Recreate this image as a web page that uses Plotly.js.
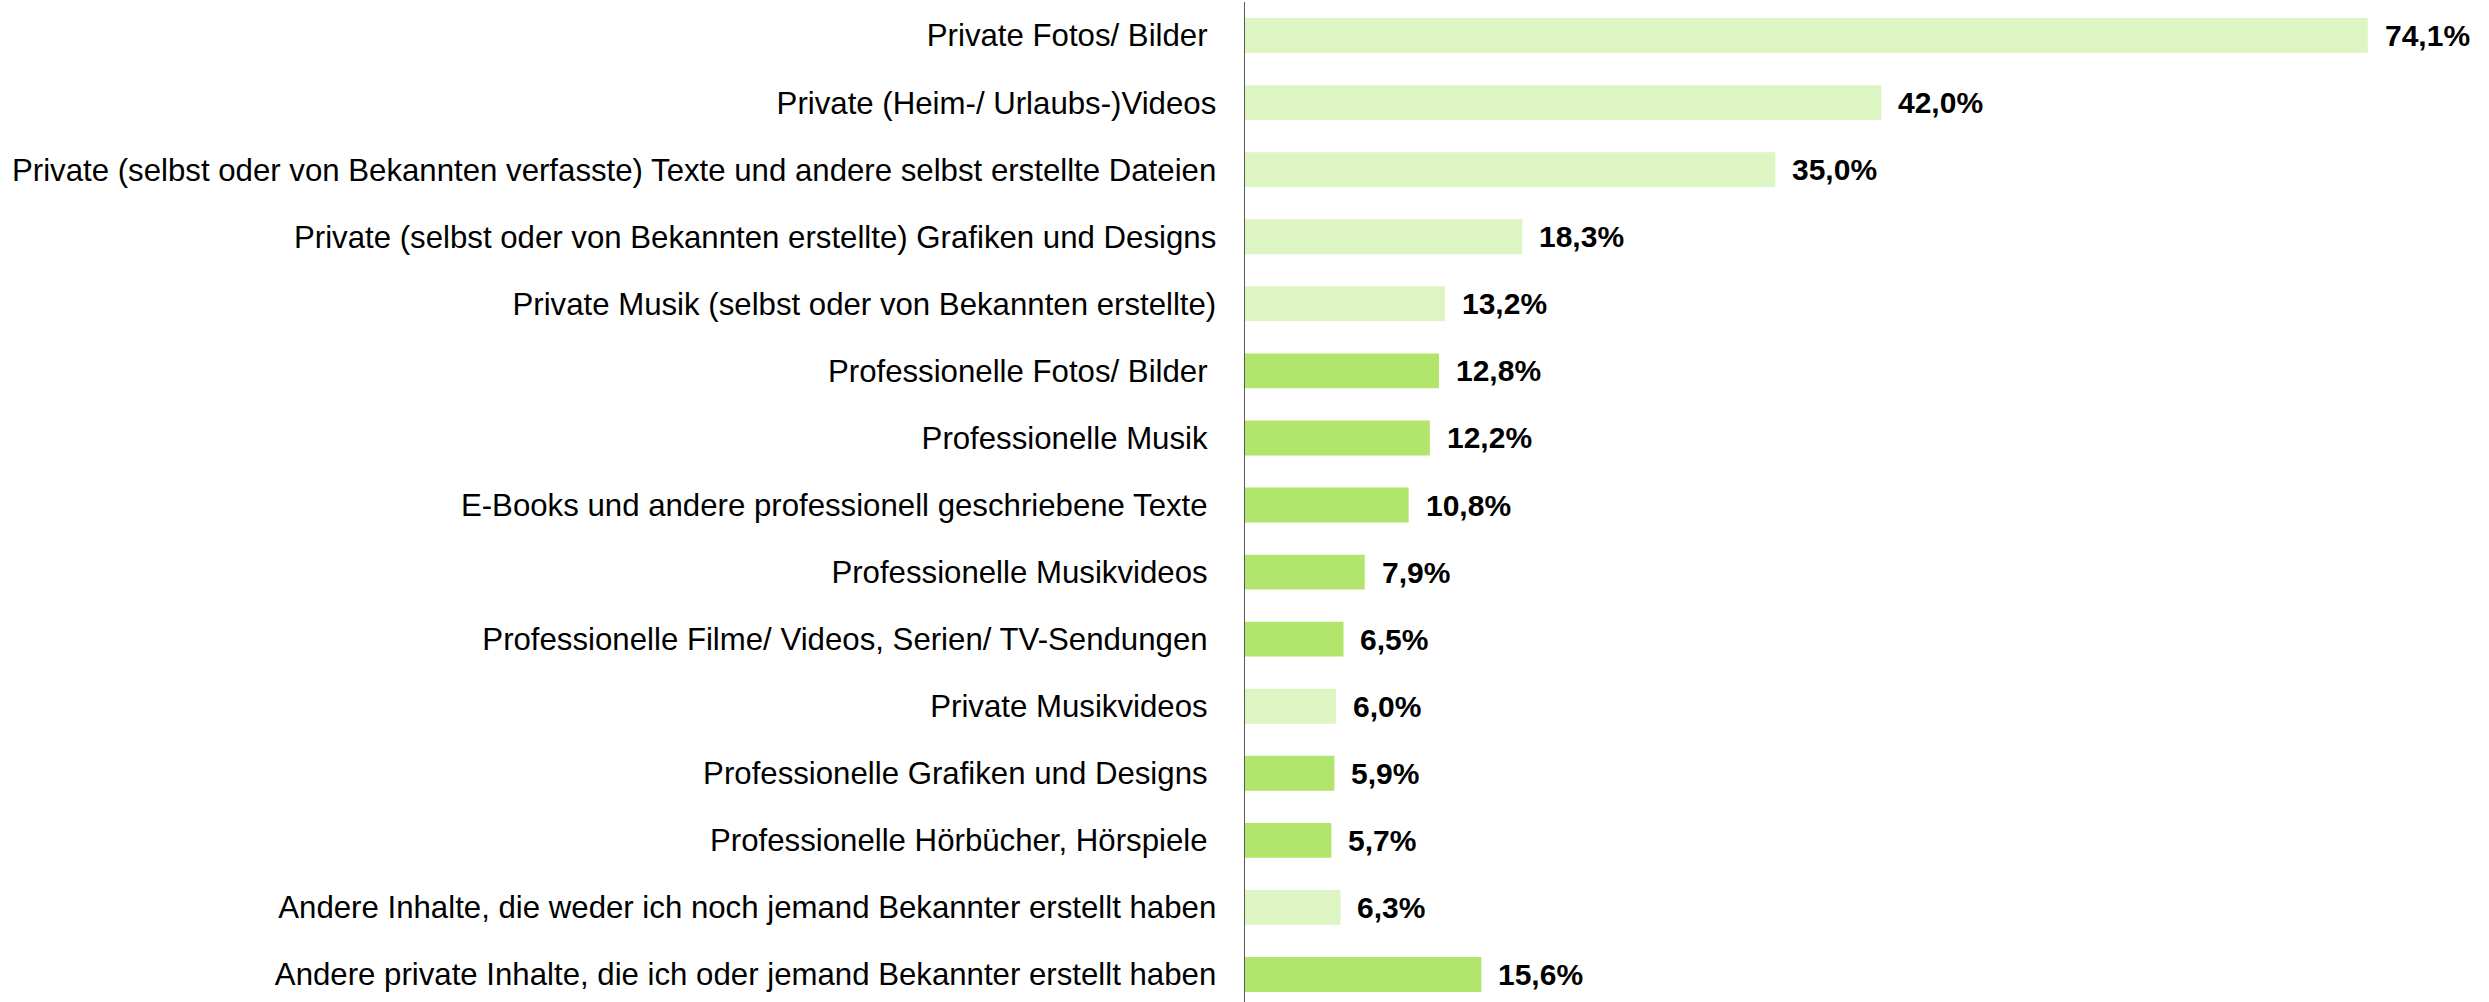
<!DOCTYPE html>
<html>
<head>
<meta charset="utf-8">
<script src="https://cdn.plot.ly/plotly-3.0.1.min.js"></script>
<style>
html,body{margin:0;padding:0;background:#fff;}
#chart{width:2489px;height:1002px;}
</style>
</head>
<body>
<div id="chart"></div>
<script>
const categories = [
  "Private Fotos/ Bilder\u00a0",
  "Private (Heim-/ Urlaubs-)Videos",
  "Private (selbst oder von Bekannten verfasste) Texte und andere selbst erstellte Dateien",
  "Private (selbst oder von Bekannten erstellte) Grafiken und Designs",
  "Private Musik (selbst oder von Bekannten erstellte)",
  "Professionelle Fotos/ Bilder\u00a0",
  "Professionelle Musik\u00a0",
  "E-Books und andere professionell geschriebene Texte\u00a0",
  "Professionelle Musikvideos\u00a0",
  "Professionelle Filme/ Videos, Serien/ TV-Sendungen\u00a0",
  "Private Musikvideos\u00a0",
  "Professionelle Grafiken und Designs\u00a0",
  "Professionelle Hörbücher, Hörspiele\u00a0",
  "Andere Inhalte, die weder ich noch jemand Bekannter erstellt haben",
  "Andere private Inhalte, die ich oder jemand Bekannter erstellt haben"
];
const values = [74.1, 42.0, 35.0, 18.3, 13.2, 12.8, 12.2, 10.8, 7.9, 6.5, 6.0, 5.9, 5.7, 6.3, 15.6];
const groups = ["light","light","light","light","light","dark","dark","dark","dark","dark","light","dark","dark","light","dark"];

const palette = {light: "#DDF5C2", dark: "#B2E56B"};
const fmt = v => v.toFixed(1).replace(".", ",") + "%";

const trace = {
  type: "bar",
  orientation: "h",
  x: values,
  y: categories,
  marker: {color: groups.map(g => palette[g]), line: {width: 0}},
  hoverinfo: "none"
};

const annotations = values.map((v, i) => ({
  x: v, y: categories[i], xref: "x", yref: "y",
  text: fmt(v), showarrow: false, xanchor: "left", yanchor: "middle",
  xshift: 15,
  font: {family: "Liberation Sans, Arial, sans-serif", size: 30, color: "#000", weight: "bold"}
}));

const layout = {
  width: 2489, height: 1002,
  margin: {l: 1245, r: 0, t: 2, b: 0, pad: 0},
  paper_bgcolor: "#fff", plot_bgcolor: "#fff",
  showlegend: false,
  bargap: 0.48,
  font: {family: "Liberation Sans, Arial, sans-serif", size: 31, color: "#000"},
  xaxis: {range: [0, 82.1], showgrid: false, zeroline: false, showticklabels: false, showline: false, ticks: ""},
  yaxis: {
    type: "category",
    range: [14.41, -0.5],
    showgrid: false, zeroline: false,
    showline: true, linecolor: "#595959", linewidth: 1.5,
    ticks: "", ticklabelstandoff: 21,
    tickfont: {family: "Liberation Sans, Arial, sans-serif", size: 31.2, color: "#000"}
  },
  annotations: annotations
};

Plotly.newPlot("chart", [trace], layout, {staticPlot: true, displayModeBar: false});
</script>
</body>
</html>
